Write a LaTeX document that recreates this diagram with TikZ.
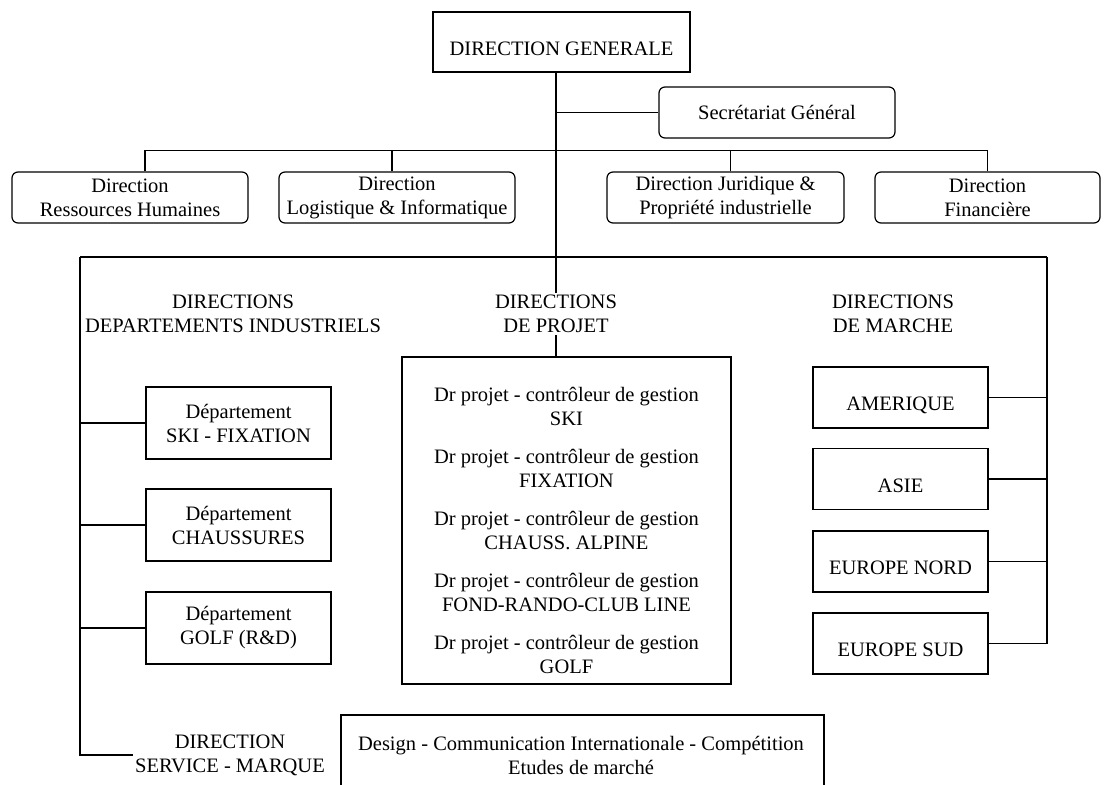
\documentclass[tikz,border=0pt]{standalone}
\usepackage{fontspec}
\setmainfont{Liberation Serif}
\usepackage{tikz}
\tikzstyle{graph}=[x=1pt, y=-1pt, line width=1.2pt, font=\fontsize{20.5}{24}\selectfont]
\tikzstyle{rbox}=[rectangle, rounded corners=6pt, draw, align=center, inner sep=2pt, minimum height=51pt]
\tikzstyle{sbox}=[rectangle, draw, align=center, inner sep=2pt]
\tikzstyle{low}=[text height=26pt, text depth=0pt]
\tikzstyle{hd}=[align=center, inner sep=2pt]
\tikzstyle{link}=[draw, line width=1.2pt]

\begin{document}
\begin{tikzpicture}[graph]
	\useasboundingbox (0,0) rectangle (1104,785);
	% top
	\draw (561.5,42) node[sbox, low, minimum width=257pt, minimum height=60pt] (dg) {DIRECTION GENERALE};
	\draw (777,112.5) node[rbox, minimum width=236pt] (sg) {Secrétariat Général};
	\draw (130,197.5) node[rbox, minimum width=236pt] (rh) {Direction\\Ressources Humaines};
	\draw (397,197.5) node[rbox, minimum width=236pt] (li) {Direction\\Logistique \& Informatique};
	\draw (725.5,197.5) node[rbox, minimum width=237pt] (jp) {Direction Juridique \&\\Propriété industrielle};
	\draw (987.5,197.5) node[rbox, minimum width=225pt] (fin) {Direction\\Financière};
	\coordinate (hub) at (556,257);
	\coordinate (busL) at (80,257);
	\coordinate (busR) at (1047,257);
	% headings
	\draw (233,314) node[hd] (dihd) {DIRECTIONS\\DEPARTEMENTS INDUSTRIELS};
	\draw (556,314) node[hd] (prhd) {DIRECTIONS\\DE PROJET};
	\draw (893,314) node[hd] (mahd) {DIRECTIONS\\DE MARCHE};
	% departements
	\draw (238.5,423) node[sbox, minimum width=185pt, minimum height=72pt] (ski) {Département\\SKI - FIXATION};
	\draw (238.5,525) node[sbox, minimum width=185pt, minimum height=72pt] (cha) {Département\\CHAUSSURES};
	\draw (238.5,628) node[sbox, minimum width=185pt, minimum height=72pt] (golf) {Département\\GOLF (R\&D)};
	% projets
	\draw (566.5,520.5) node[sbox, minimum width=329pt, minimum height=327pt] (proj) {};
	\draw (566.5,530) node[hd] (projtxt) {Dr projet - contrôleur de gestion\\SKI\\[14pt]
		Dr projet - contrôleur de gestion\\FIXATION\\[14pt]
		Dr projet - contrôleur de gestion\\CHAUSS. ALPINE\\[14pt]
		Dr projet - contrôleur de gestion\\FOND-RANDO-CLUB LINE\\[14pt]
		Dr projet - contrôleur de gestion\\GOLF};
	% marches
	\draw (900.5,397.5) node[sbox, low, minimum width=175pt, minimum height=61pt] (ame) {AMERIQUE};
	\draw (900.5,479) node[sbox, low, minimum width=175pt, minimum height=61pt] (asi) {ASIE};
	\draw (900.5,561.5) node[sbox, low, minimum width=175pt, minimum height=61pt] (eun) {EUROPE NORD};
	\draw (900.5,643.5) node[sbox, low, minimum width=175pt, minimum height=61pt] (eus) {EUROPE SUD};
	% service marque
	\draw (230,755) node[hd] (svhd) {DIRECTION\\SERVICE - MARQUE};
	\draw (582.5,760) node[sbox, minimum width=483pt, minimum height=90pt] (svc) {};
	\draw (581,755) node[hd] (svctxt) {Design - Communication Internationale - Compétition\\Etudes de marché};
	% links
	\draw[link] (dg.south -| hub) -- (hub) -- (prhd.north);
	\draw[link] (hub |- sg.west) -- (sg.west);
	\draw[link] ([xshift=15pt]rh.north) -- ++(0,-21) -| (fin.north);
	\draw[link] ([xshift=-5pt]li.north) -- ++(0,-21);
	\draw[link] ([xshift=5pt]jp.north) -- ++(0,-21);
	\draw[link] (busL) -- (busR);
	\draw[link] (prhd.south) -- (prhd.south |- proj.north);
	\draw[link] (busL) |- (svhd.west);
	\foreach \d in {ski, cha, golf}
		\draw[link] (busL |- \d.west) -- (\d.west);
	\draw[link] (busR) -- (busR |- eus.east);
	\foreach \m in {ame, asi, eun, eus}
		\draw[link] (\m.east) -- (\m.east -| busR);
\end{tikzpicture}
\end{document}
